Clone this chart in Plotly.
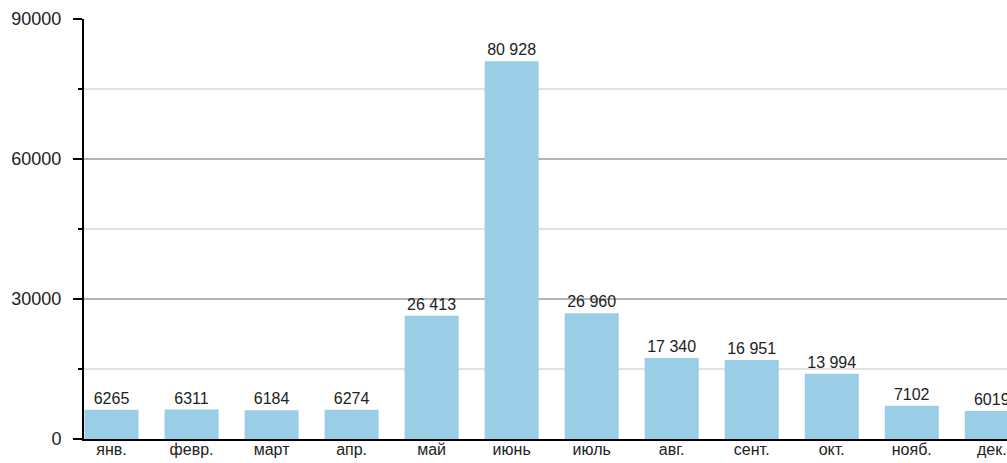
import plotly.graph_objects as go

months = ["янв.", "февр.", "март", "апр.", "май", "июнь", "июль", "авг.", "сент.", "окт.", "нояб.", "дек."]
values = [6265, 6311, 6184, 6274, 26413, 80928, 26960, 17340, 16951, 13994, 7102, 6019]
labels = ["6265", "6311", "6184", "6274", "26 413", "80 928", "26 960", "17 340", "16 951", "13 994", "7102", "6019"]
y_ticks = [0, 30000, 60000, 90000]
y_tick_labels = ["0", "30000", "60000", "90000"]
y_minor = [15000, 45000, 75000]

font = "Liberation Sans, Arial, sans-serif"

fig = go.Figure(go.Bar(
    x=list(range(len(months))),
    y=values,
    text=labels,
    textposition="outside",
    cliponaxis=False,
    textfont=dict(family=font, size=16, color="#222222"),
    marker=dict(color="#9ACDE6", line=dict(width=0)),
    width=0.675,
))

fig.update_layout(
    width=1007, height=463,
    margin=dict(l=84, r=0, t=19, b=24),
    paper_bgcolor="white", plot_bgcolor="white",
    showlegend=False,
    font=dict(family=font, size=16, color="#222222"),
    xaxis=dict(
        tickmode="array", tickvals=list(range(len(months))), ticktext=months,
        range=[-0.344, 11.19],
        automargin=False,
        showline=True, linecolor="#000000", linewidth=2,
        showgrid=False, ticks="", zeroline=False,
        ticklabelstandoff=-5,
        tickfont=dict(family=font, size=16, color="#222222"),
    ),
    yaxis=dict(
        range=[0, 90000],
        automargin=False,
        tickmode="array", tickvals=y_ticks, ticktext=y_tick_labels,
        showline=True, linecolor="#000000", linewidth=2,
        ticks="outside", ticklen=9, tickcolor="#000000", tickwidth=1.5,
        showgrid=True, gridcolor="#b4b4b4", gridwidth=1.5,
        zeroline=False,
        ticklabelstandoff=8,
        tickfont=dict(family=font, size=18, color="#222222"),
        minor=dict(tickvals=y_minor, ticks="outside", ticklen=4,
                   tickcolor="#000000", showgrid=True, gridcolor="#e2e2e2", gridwidth=1.5),
    ),
)

fig.write_html(
    "out.html",
    config={"displayModeBar": False},
    post_script="document.body.style.margin='0';document.body.style.overflow='hidden';",
)
